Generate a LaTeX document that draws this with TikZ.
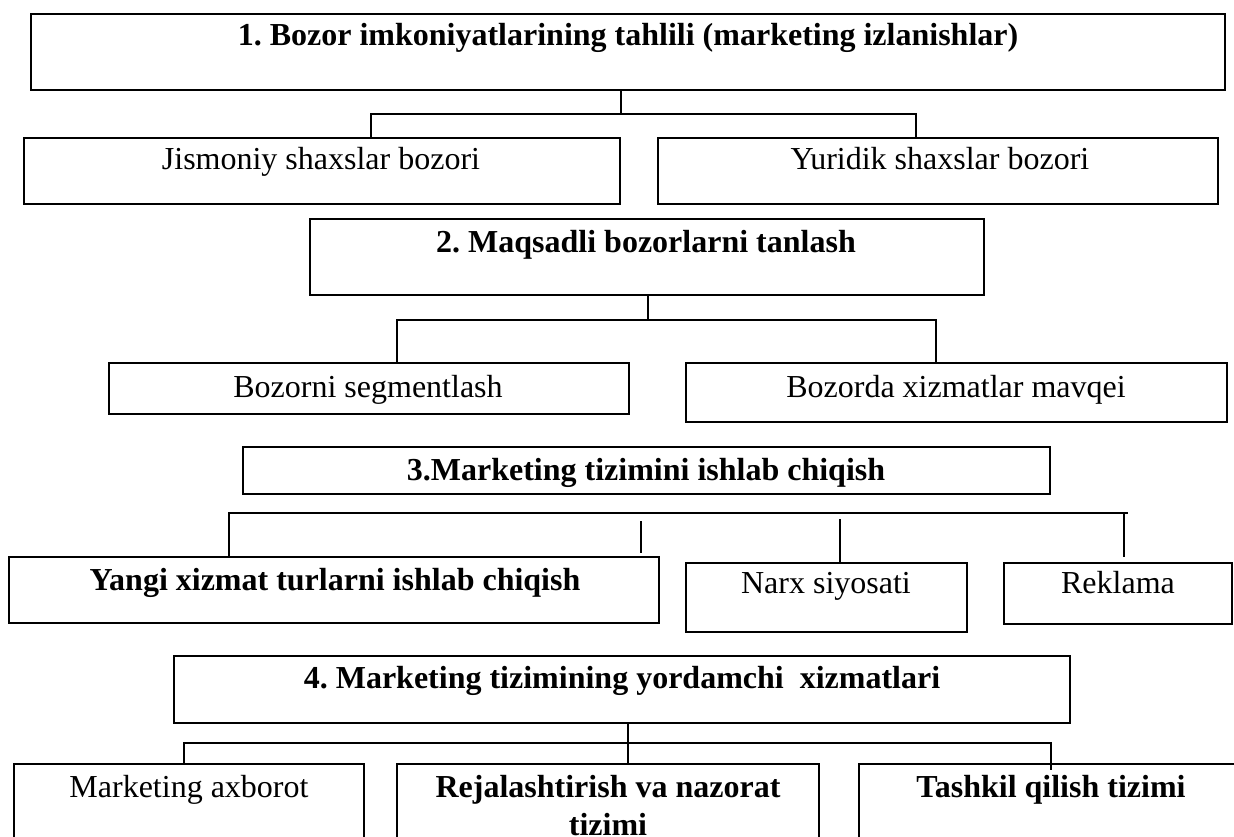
\documentclass[tikz,border=0pt]{standalone}
\usepackage{fontspec}
\setmainfont{Liberation Serif}
\usetikzlibrary{fit}
\frenchspacing
\begin{document}
\begin{tikzpicture}[x=1pt,y=-1pt,
  box/.style={draw, line width=1.6pt, inner sep=0pt, outer sep=0pt},
  lab/.style={anchor=base, inner sep=0pt, font=\fontsize{32}{38}\selectfont},
  blab/.style={lab, font=\fontsize{32}{38}\selectfont\bfseries},
  link/.style={line width=1.3pt}]
\useasboundingbox (0,0) rectangle (1234,836);

% boxes
\node[box, fit={(31,14) (1225,90)}] (b1) {};
\node[box, fit={(24,138) (620,204)}] (jis) {};
\node[box, fit={(658,138) (1218,204)}] (yur) {};
\node[box, fit={(310,219) (984,295)}] (b2) {};
\node[box, fit={(109,363) (629,414)}] (seg) {};
\node[box, fit={(686,363) (1227,422)}] (mav) {};
\node[box, fit={(243,447) (1050,494)}] (b3) {};
\node[box, fit={(9,557) (659,623)}] (yangi) {};
\node[box, fit={(686,563) (967,632)}] (narx) {};
\node[box, fit={(1004,563) (1232,624)}] (rek) {};
\node[box, fit={(174,656) (1070,723)}] (b4) {};
\node[box, fit={(14,764) (364,870)}] (axb) {};
\node[box, fit={(397,764) (819,870)}] (rej) {};
\node[box, fit={(859,764) (1250,870)}] (tash) {};

% texts
\node[blab] (t1) at (628,45) {1. Bozor imkoniyatlarining tahlili (marketing izlanishlar)};
\node[lab] (tjis) at (321,169) {Jismoniy shaxslar bozori};
\node[lab] (tyur) at (940,169) {Yuridik shaxslar bozori};
\node[blab] (t2) at (646,252) {2. Maqsadli bozorlarni tanlash};
\node[lab] (tseg) at (368,397) {Bozorni segmentlash};
\node[lab] (tmav) at (956,397) {Bozorda xizmatlar mavqei};
\node[blab] (t3) at (646,480) {3.Marketing tizimini ishlab chiqish};
\node[blab] (tyangi) at (335,590) {Yangi xizmat turlarni ishlab chiqish};
\node[lab] (tnarx) at (826,593) {Narx siyosati};
\node[lab] (trek) at (1118,593) {Reklama};
\node[blab] (t4) at (622,688) {4. Marketing tizimining yordamchi\ \ xizmatlari};
\node[lab] (taxb) at (189,797) {Marketing axborot};
\node[blab, align=center] (trej) at (608,835) {Rejalashtirish va nazorat\\tizimi};
\node[blab] (ttash) at (1051,797) {Tashkil qilish tizimi};

% level 1 connectors
\coordinate (j1) at (621,114);
\coordinate (j1l) at (371,114);
\coordinate (j1r) at (916,114);
\draw[link] (j1 |- b1.south) -- (j1);
\draw[link] (j1l |- jis.north) -- (j1l) -- (j1r) -- (j1r |- yur.north);

% level 2 connectors
\coordinate (j2) at (648,320);
\coordinate (j2l) at (397,320);
\coordinate (j2r) at (936,320);
\draw[link] (j2 |- b2.south) -- (j2);
\draw[link] (j2l |- seg.north) -- (j2l) -- (j2r) -- (j2r |- mav.north);

% level 3 connectors
\coordinate (j3l) at (229,513);
\coordinate (j3r) at (1128,513);
\coordinate (j3e) at (1124,557);
\coordinate (f1a) at (641,521);
\coordinate (f1b) at (641,553);
\coordinate (f2a) at (840,519);
\draw[link] (j3l |- yangi.north) -- (j3l) -- (j3r);
\draw[link] (j3e |- j3r) -- (j3e);
\draw[link] (f1a) -- (f1b);
\draw[link] (f2a) -- (f2a |- narx.north);

% level 4 connectors
\coordinate (j4) at (628,743);
\coordinate (j4l) at (184,743);
\coordinate (j4r) at (1051,743);
\coordinate (j4e) at (1051,770);
\draw[link] (j4 |- b4.south) -- (j4 |- rej.north);
\draw[link] (j4l |- axb.north) -- (j4l) -- (j4r) -- (j4e);
\end{tikzpicture}
\end{document}
